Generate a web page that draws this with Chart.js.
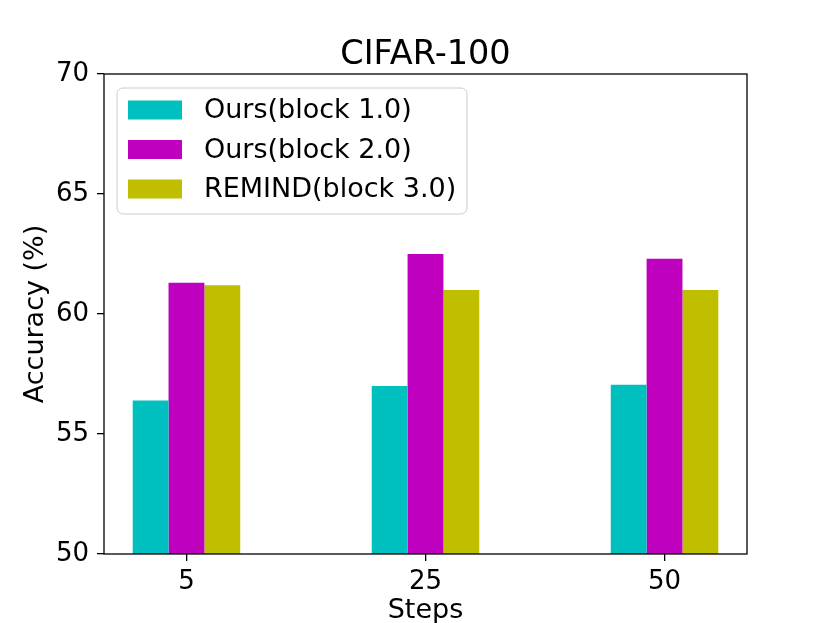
<!DOCTYPE html>
<html>
<head>
    <title>CIFAR-100</title>
    <script src="https://cdn.jsdelivr.net/npm/chart.js"></script>
    <style>
        body { margin: 0; background: #fff; overflow: hidden; }
        #wrap { width: 830px; height: 623px; }
    </style>
</head>
<body>
    <div id="wrap">
        <canvas id="myChart"></canvas>
    </div>

    <script>
        // values
        const steps = ['5', '25', '50'];
        const oursBlock1 = [56.4, 57.0, 57.05];
        const oursBlock2 = [61.3, 62.5, 62.3];
        const remindBlock3 = [61.2, 61.0, 61.0];
        const yTicks = [50, 55, 60, 65, 70];
        const chartTitle = 'CIFAR-100';

        Chart.defaults.font.family = 'DejaVu Sans';
        Chart.defaults.color = '#000';

        function toPoints(values) {
            return values.map((v, i) => ({ x: i, y: v }));
        }

        // box around the plot, drawn over the bars like matplotlib does
        const frame = {
            id: 'frame',
            afterDatasetsDraw(chart) {
                const a = chart.chartArea;
                const ctx = chart.ctx;
                ctx.save();
                ctx.strokeStyle = '#000';
                ctx.lineWidth = 1.3;
                ctx.strokeRect(a.left, a.top, a.right - a.left, a.bottom - a.top);
                ctx.restore();
            }
        };

        // title centred over the plot area, not the whole canvas
        const plotTitle = {
            id: 'plotTitle',
            afterDraw(chart) {
                const a = chart.chartArea;
                const ctx = chart.ctx;
                ctx.save();
                ctx.font = '33.5px "DejaVu Sans"';
                ctx.fillStyle = '#000';
                ctx.textAlign = 'center';
                ctx.textBaseline = 'alphabetic';
                ctx.fillText(chartTitle, (a.left + a.right) / 2, a.top - 10);
                ctx.restore();
            }
        };

        // legend box in the upper left corner of the plot
        const boxLegend = {
            id: 'boxLegend',
            afterDraw(chart) {
                const a = chart.chartArea;
                const ctx = chart.ctx;
                const x = a.left + 13, y = a.top + 14, w = 350, h = 126, r = 6;
                ctx.save();
                ctx.beginPath();
                ctx.roundRect(x, y, w, h, r);
                ctx.fillStyle = 'rgba(255,255,255,0.8)';
                ctx.fill();
                ctx.strokeStyle = '#cccccc';
                ctx.lineWidth = 1;
                ctx.stroke();
                ctx.font = '27px "DejaVu Sans"';
                ctx.textBaseline = 'middle';
                chart.data.datasets.forEach((ds, i) => {
                    const cy = y + 22 + i * 39.5;
                    ctx.fillStyle = ds.backgroundColor;
                    ctx.fillRect(x + 11, cy - 9.5, 54, 19);
                    ctx.fillStyle = '#000';
                    ctx.fillText(ds.label, x + 87, cy + 1);
                });
                ctx.restore();
            }
        };

        new Chart(document.getElementById('myChart'), {
            type: 'bar',
            data: {
                datasets: [{
                    label: 'Ours(block 1.0)',
                    data: toPoints(oursBlock1),
                    backgroundColor: '#00bfbf'
                }, {
                    label: 'Ours(block 2.0)',
                    data: toPoints(oursBlock2),
                    backgroundColor: '#bf00bf'
                }, {
                    label: 'REMIND(block 3.0)',
                    data: toPoints(remindBlock3),
                    backgroundColor: '#bfbf00'
                }]
            },
            options: {
                responsive: true,
                maintainAspectRatio: false,
                animation: false,
                layout: { padding: { left: 0, right: 83, top: 74, bottom: 0 } },
                datasets: {
                    bar: { categoryPercentage: 0.45, barPercentage: 1.0 }
                },
                scales: {
                    x: {
                        type: 'linear',
                        offset: false,
                        min: -0.345,
                        max: 2.345,
                        afterBuildTicks: axis => {
                            axis.ticks = steps.map((s, i) => ({ value: i }));
                        },
                        afterFit: axis => { axis.height = 69; },
                        ticks: {
                            callback: v => steps[v],
                            font: { size: 26 },
                            padding: 6,
                            maxRotation: 0
                        },
                        grid: {
                            offset: false,
                            drawOnChartArea: false,
                            drawTicks: true,
                            tickLength: 7,
                            color: '#000',
                            lineWidth: 1.3
                        },
                        border: { display: false },
                        title: {
                            display: true,
                            text: 'Steps',
                            font: { size: 27 },
                            padding: { top: 0, bottom: -4 }
                        }
                    },
                    y: {
                        min: 50,
                        max: 70,
                        afterBuildTicks: axis => {
                            axis.ticks = yTicks.map(v => ({ value: v }));
                        },
                        afterFit: axis => { axis.width = 104; },
                        ticks: {
                            font: { size: 26 },
                            padding: 8
                        },
                        grid: {
                            drawOnChartArea: false,
                            drawTicks: true,
                            tickLength: 7,
                            color: '#000',
                            lineWidth: 1.3
                        },
                        border: { display: false },
                        title: {
                            display: true,
                            text: 'Accuracy (%)',
                            font: { size: 27 },
                            padding: { top: 20, bottom: 0 }
                        }
                    }
                },
                plugins: {
                    legend: { display: false },
                    tooltip: { enabled: false },
                    title: { display: false }
                }
            },
            plugins: [frame, plotTitle, boxLegend]
        });
    </script>
</body>
</html>
